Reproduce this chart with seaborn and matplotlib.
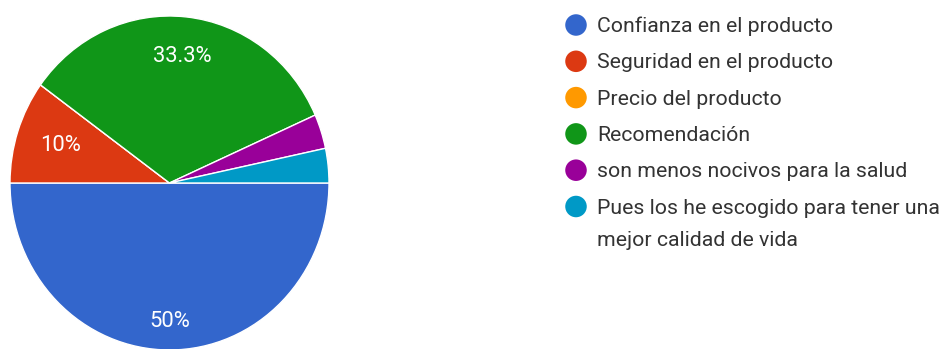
import numpy as np
import matplotlib
matplotlib.use("Agg")
import matplotlib.pyplot as plt
import seaborn as sns

# Survey answers: reasons for choosing the product
categories = [
    "Confianza en el producto",
    "Seguridad en el producto",
    "Precio del producto",
    "Recomendación",
    "son menos nocivos para la salud",
    "Pues los he escogido para tener una\nmejor calidad de vida",
]
counts = [15, 3, 0, 10, 1, 1]
colors = ["#3366CC", "#DC3912", "#FF9900", "#109618", "#990099", "#0099C6"]
# radial position of the percentage label inside each wedge
label_radius = [0.83, 0.72, 0.76, 0.76, 0.76, 0.76]

sns.set_theme(style="white")
plt.rcParams["font.family"] = ["Roboto", "DejaVu Sans"]

W, H = 945, 349
fig = plt.figure(figsize=(W / 100, H / 100), dpi=100)

# pie axes placed in pixel terms
px_l, px_r, px_t, px_b = 10, 329, 16, 350
ax = fig.add_axes([px_l / W, (H - px_b) / H, (px_r - px_l) / W, (px_b - px_t) / H])

total = sum(counts)
wedges, _ = ax.pie(
    counts,
    colors=colors,
    startangle=0,
    counterclock=False,
    radius=1.0,
    wedgeprops=dict(edgecolor="white", linewidth=1.0),
)
ax.set_aspect("auto")
ax.set_xlim(-1, 1)
ax.set_ylim(-1, 1)
ax.axis("off")

for w, c, r in zip(wedges, counts, label_radius):
    pct = 100.0 * c / total
    if pct < 5:
        continue
    mid = np.deg2rad((w.theta1 + w.theta2) / 2)
    txt = f"{pct:.1f}".rstrip("0").rstrip(".") + "%"
    ax.text(r * np.cos(mid), r * np.sin(mid), txt, ha="center", va="center",
            color="white", fontsize=15.8)

# legend drawn in pixel coordinates
lax = fig.add_axes([0, 0, 1, 1])
lax.set_xlim(0, W)
lax.set_ylim(H, 0)
lax.axis("off")
row_y = 25
row_step = 36.3
line_step = 32
for i, (lab, col) in enumerate(zip(categories, colors)):
    y = row_y + i * row_step
    lax.scatter([576], [y], s=240, color=col, edgecolors="none")
    for j, line in enumerate(lab.split("\n")):
        lax.text(597, y + 7 + j * line_step, line, ha="left", va="baseline",
                 fontsize=15.3, color="#333333")

fig.savefig("out.png", dpi=100)
